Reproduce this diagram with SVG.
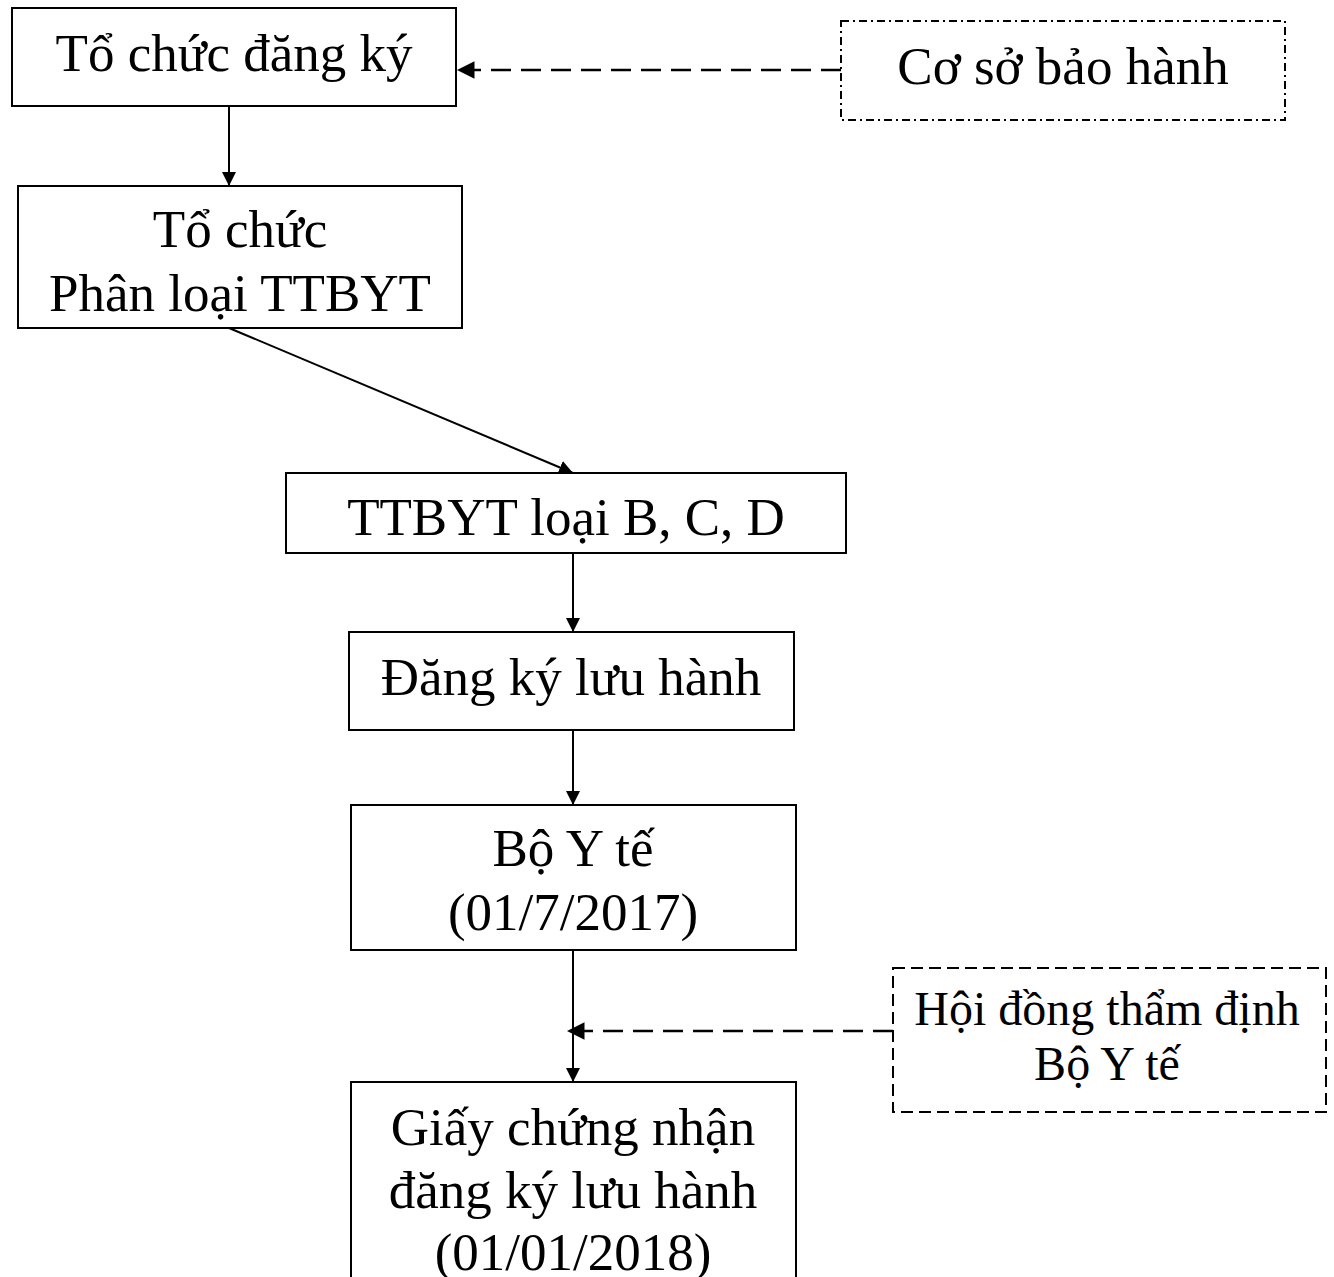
<svg xmlns="http://www.w3.org/2000/svg" width="1334" height="1277" viewBox="0 0 1334 1277">
<style>
.box{fill:#fff;stroke:#000;stroke-width:2}
.dd{fill:none;stroke:#000;stroke-width:2;stroke-dasharray:8 4 2 4}
.ds{fill:none;stroke:#000;stroke-width:2;stroke-dasharray:12 6}
.t{font-family:"Liberation Serif","Times New Roman",serif;font-size:53px;fill:#000;text-anchor:middle}
.t2{font-family:"Liberation Serif","Times New Roman",serif;font-size:48px;fill:#000;text-anchor:middle}
.c{fill:none;stroke:#000;stroke-width:2}
.cd{fill:none;stroke:#000;stroke-width:2.5;stroke-dasharray:20 10}
</style>
<defs>
<marker id="ah" viewBox="0 0 10 10" refX="10" refY="5" markerWidth="7" markerHeight="7" markerUnits="strokeWidth" orient="auto">
<path d="M0,0 L10,5 L0,10 z" fill="#000"/>
</marker>
</defs>
<rect width="1334" height="1277" fill="#fff"/>
<g id="connectors">
<line class="c" x1="229" y1="106" x2="229" y2="186" marker-end="url(#ah)"/>
<line class="c" x1="229" y1="328" x2="573" y2="473" marker-end="url(#ah)"/>
<line class="c" x1="573" y1="553" x2="573" y2="632" marker-end="url(#ah)"/>
<line class="c" x1="573" y1="730" x2="573" y2="805" marker-end="url(#ah)"/>
<line class="c" x1="573" y1="950" x2="573" y2="1082" marker-end="url(#ah)"/>
<line class="cd" x1="841" y1="70" x2="457" y2="70" marker-end="url(#ah)"/>
<line class="cd" x1="893" y1="1031" x2="567" y2="1031" marker-end="url(#ah)"/>
</g>
<g id="n1"><rect class="box" x="12" y="8" width="444" height="98"/><text class="t" x="234" y="71">Tổ chức đăng ký</text></g>
<g id="n2"><rect class="dd" x="841" y="21" width="444" height="99"/><text class="t" x="1063" y="84">Cơ sở bảo hành</text></g>
<g id="n3"><rect class="box" x="18" y="186" width="444" height="142"/><text class="t" x="240" y="247">Tổ chức</text><text class="t" x="240" y="311">Phân loại TTBYT</text></g>
<g id="n4"><rect class="box" x="286" y="473" width="560" height="80"/><text class="t" x="566" y="535">TTBYT loại B, C, D</text></g>
<g id="n5"><rect class="box" x="349" y="632" width="445" height="98"/><text class="t" x="571" y="695">Đăng ký lưu hành</text></g>
<g id="n6"><rect class="box" x="351" y="805" width="445" height="145"/><text class="t" x="573" y="866">Bộ Y tế</text><text class="t" x="573" y="930">(01/7/2017)</text></g>
<g id="n7"><rect class="ds" x="893" y="968" width="433" height="144"/><text class="t2" x="1107" y="1025">Hội đồng thẩm định</text><text class="t2" x="1107" y="1080">Bộ Y tế</text></g>
<g id="n8"><rect class="box" x="351" y="1082" width="445" height="220"/><text class="t" x="573" y="1145">Giấy chứng nhận</text><text class="t" x="573" y="1208">đăng ký lưu hành</text><text class="t" x="573" y="1270">(01/01/2018)</text></g>
</svg>
